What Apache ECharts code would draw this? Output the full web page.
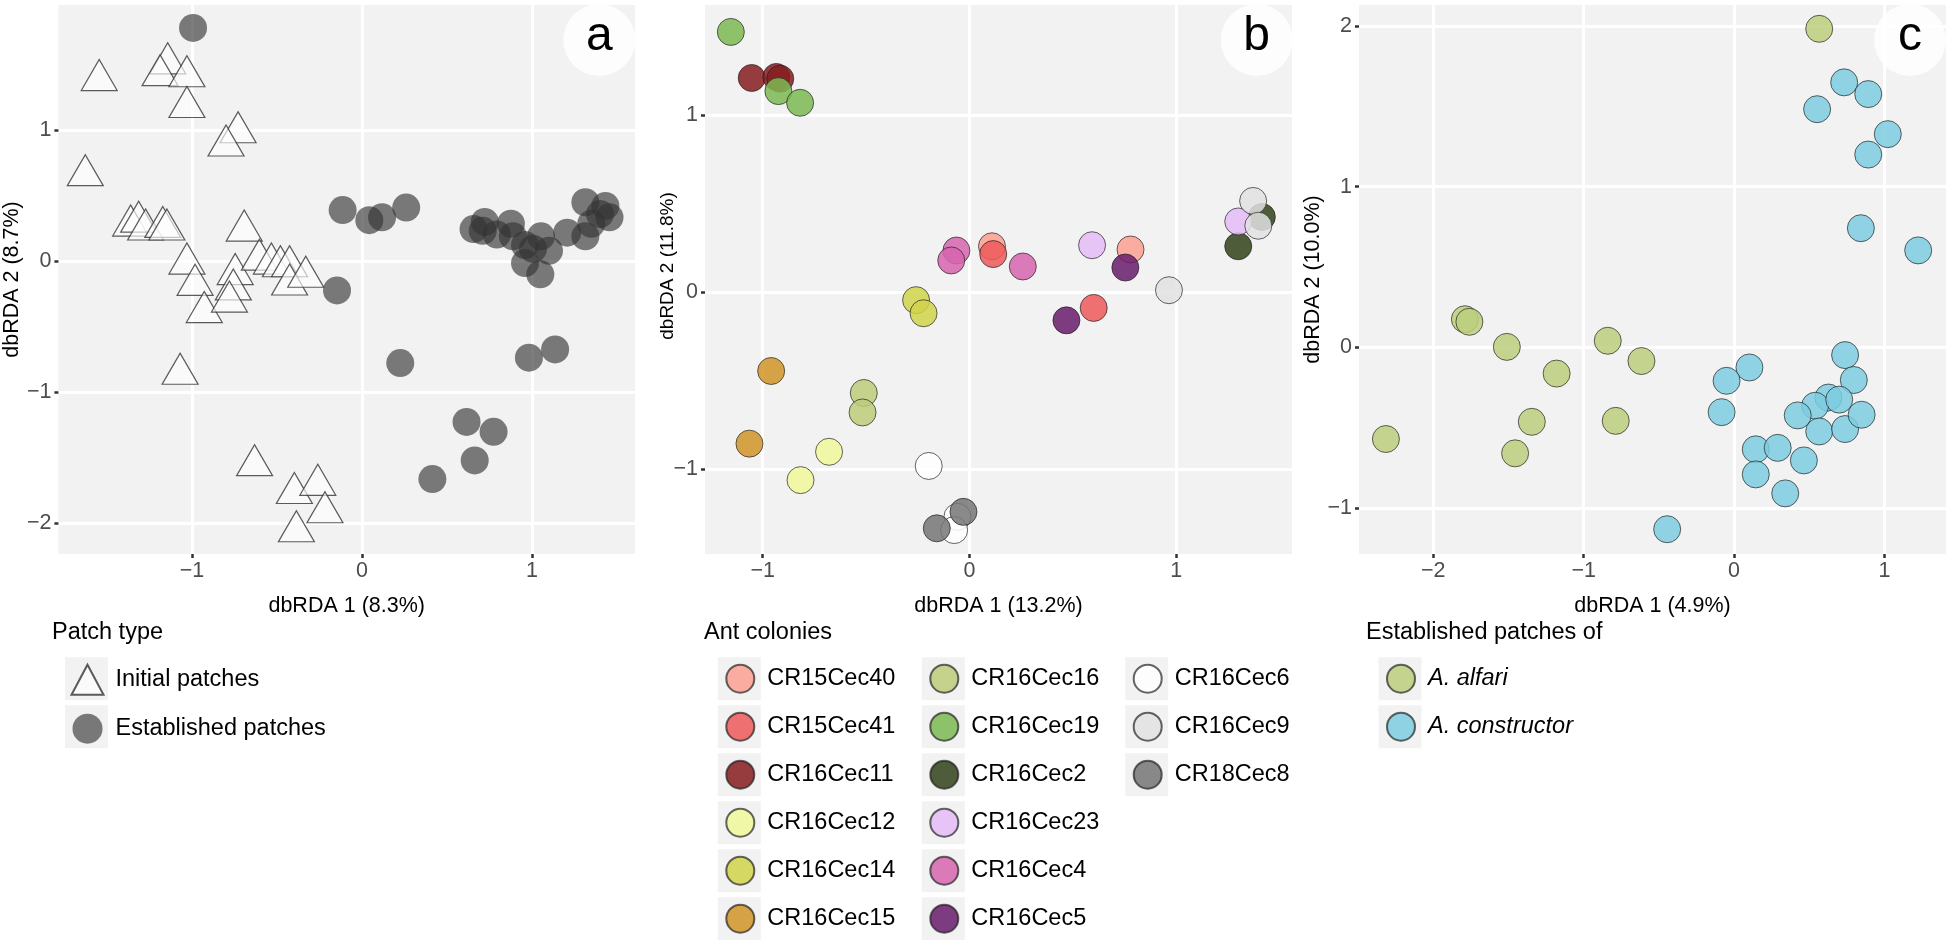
<!DOCTYPE html>
<html>
<head>
<meta charset="utf-8">
<script src="https://cdn.jsdelivr.net/npm/echarts@6/dist/echarts.min.js"></script>
<style>
  html, body { margin: 0; padding: 0; background: #fff; }
  #chart { width: 1952px; height: 940px; }
</style>
</head>
<body>
<div id="chart"></div>
<script>
// panel a : patch type
const initialX = [-1.546, -1.143, -1.188, -1.03, -1.03, -0.729, -0.80, -1.628, -1.361, -1.314, -1.273, -1.172, -1.148, -0.693, -1.03, -0.982,
  -0.928, -0.746, -0.757, -0.78, -0.604, -0.533, -0.48, -0.426, -0.426, -0.331, -1.07, -0.632, -0.398, -0.26, -0.218, -0.386];
const initialY = [1.42, 1.548, 1.458, 1.45, 1.215, 1.022, 0.921, 0.695, 0.31, 0.34, 0.28, 0.30, 0.28, 0.272, 0.02, -0.142,
  -0.35, -0.06, -0.177, -0.27, 0.05, 0.02, 0.0, 0.0, -0.14, -0.08, -0.82, -1.518, -1.73, -1.668, -1.877, -2.022];
const establishedX = [-0.994, -0.114, 0.043, 0.118, 0.26, -0.147, 0.225, 0.656, 0.722, 0.71, 0.793, 0.876, 0.888, 0.959, 1.006, 1.053,
  1.1, 0.959, 1.049, 1.207, 1.314, 1.314, 1.349, 1.432, 1.456, 1.40, 0.982, 1.136, 0.615, 0.774, 0.663, 0.414];
const establishedY = [1.78, 0.39, 0.313, 0.335, 0.409, -0.223, -0.777, 0.245, 0.30, 0.232, 0.204, 0.286, 0.19, 0.123, 0.095, 0.19,
  0.08, -0.014, -0.1, 0.218, 0.45, 0.19, 0.286, 0.422, 0.335, 0.36, -0.736, -0.673, -1.226, -1.302, -1.52, -1.662];

// panel b : ant colonies
const colonies = ['CR15Cec40', 'CR15Cec41', 'CR16Cec11', 'CR16Cec12', 'CR16Cec14', 'CR16Cec15', 'CR16Cec16', 'CR16Cec19',
  'CR16Cec2', 'CR16Cec23', 'CR16Cec4', 'CR16Cec5', 'CR16Cec6', 'CR16Cec9', 'CR18Cec8'];
const colonyColors = ['#FBA092', '#ED5959', '#861C1E', '#F0F99B', '#D1D34B', '#D19428', '#BCCC7A', '#7CBA52',
  '#31421A', '#E4BCF7', '#D665AE', '#6A1C6C', '#FFFFFF', '#E2E2E2', '#757575'];
const colonyX = [
  [0.109, 0.779], [0.115, 0.601], [-1.053, -0.934, -0.915], [-0.679, -0.817], [-0.258, -0.222],
  [-0.959, -1.064], [-0.511, -0.517], [-1.154, -0.924, -0.819], [1.414, 1.3], [0.593, 1.3],
  [-0.063, -0.088, 0.258], [0.754, 0.469], [-0.197, -0.058, -0.074], [0.965, 1.372, 1.397], [-0.029, -0.158]
];
const colonyY = [
  [0.26, 0.242], [0.216, -0.088], [1.21, 1.216, 1.206], [-0.9, -1.06], [-0.044, -0.118],
  [-0.444, -0.854], [-0.568, -0.678], [1.47, 1.136, 1.07], [0.426, 0.26], [0.266, 0.4],
  [0.236, 0.18, 0.146], [0.14, -0.158], [-0.98, -1.267, -1.342], [0.012, 0.516, 0.376], [-1.239, -1.332]
];

// panel c : established patches of
const alfariX = [0.566, -1.79, -1.76, -1.511, -1.18, -0.84, -0.616, -1.345, -1.456, -0.787, -2.315];
const alfariY = [1.982, 0.176, 0.16, 0.004, -0.162, 0.042, -0.084, -0.462, -0.658, -0.456, -0.569];
const constructorX = [0.732, 0.892, 0.552, 1.022, 0.892, 0.843, 1.224, 0.738, 0.796, 0.102, -0.05, -0.083, 0.627,
  0.539, 0.699, 0.423, 0.566, 0.738, 0.848, 0.144, 0.29, 0.464, 0.144, 0.34, -0.445];
const constructorY = [1.649, 1.576, 1.482, 1.327, 1.2, 0.742, 0.604, -0.047, -0.202, -0.124, -0.207, -0.402, -0.311,
  -0.362, -0.324, -0.422, -0.522, -0.507, -0.418, -0.633, -0.624, -0.702, -0.789, -0.907, -1.13];

// tick labels
const ticksAx = [-1, 0, 1];
const ticksAy = [-2, -1, 0, 1];
const ticksBx = [-1, 0, 1];
const ticksBy = [-1, 0, 1];
const ticksCx = [-2, -1, 0, 1];
const ticksCy = [-1, 0, 1, 2];

const FONT = 'Liberation Sans';
const zip = (xs, ys) => xs.map((x, i) => [x, ys[i]]);
const minus = v => String(v).replace('-', '\u2212');

// ggplot-like value axis
const makeAxis = (gridIndex, min, max, ticks, name, isY) => ({
  type: 'value',
  gridIndex: gridIndex,
  min: min,
  max: max,
  name: name,
  nameLocation: 'middle',
  nameGap: isY ? 27 : 41,
  nameTextStyle: { fontFamily: FONT, fontSize: 21.5, color: '#000' },
  axisLine: { show: false, onZero: false },
  axisTick: { show: true, customValues: ticks, length: 4, lineStyle: { color: '#333', width: 2.5 } },
  axisLabel: {
    customValues: ticks, formatter: minus, color: '#4D4D4D', fontFamily: FONT, fontSize: 21.5,
    margin: isY ? 7 : 6,
  },
  splitLine: { show: true, lineStyle: { color: '#fff', width: 3 } },
});

const dotStyle = color => ({ color: color, opacity: 0.85, borderColor: 'rgba(30,30,30,0.8)', borderWidth: 1 });

const series = [
  {
    name: 'Initial patches', type: 'scatter', xAxisIndex: 0, yAxisIndex: 0,
    symbol: 'triangle', symbolSize: [36, 31],
    itemStyle: { color: 'rgba(255,255,255,0.8)', borderColor: '#333', borderWidth: 1.2 },
    data: zip(initialX, initialY),
  },
  {
    name: 'Established patches', type: 'scatter', xAxisIndex: 0, yAxisIndex: 0,
    symbol: 'circle', symbolSize: 28,
    itemStyle: { color: 'rgba(51,51,51,0.8)' },
    data: zip(establishedX, establishedY),
  },
];
colonies.forEach((c, i) => {
  series.push({
    name: c, type: 'scatter', xAxisIndex: 1, yAxisIndex: 1,
    symbol: 'circle', symbolSize: 27,
    itemStyle: dotStyle(colonyColors[i]),
    data: zip(colonyX[i], colonyY[i]),
  });
});
series.push({
  name: 'A. alfari', type: 'scatter', xAxisIndex: 2, yAxisIndex: 2,
  symbol: 'circle', symbolSize: 27, itemStyle: dotStyle('#BCCF7C'),
  data: zip(alfariX, alfariY),
});
series.push({
  name: 'A. constructor', type: 'scatter', xAxisIndex: 2, yAxisIndex: 2,
  symbol: 'circle', symbolSize: 27, itemStyle: dotStyle('#7CCCE1'),
  data: zip(constructorX, constructorY),
});
series.forEach(s => { s.emphasis = { disabled: true }; });

// legends, one per column
const legendText = { fontFamily: FONT, fontSize: 23.5, color: '#000', padding: [0, 0, 0, 8], lineHeight: 30 };
const colLegend = (names, left, extra) => Object.assign({
  data: names, orient: 'vertical', left: left, top: 663.7, height: 320, padding: 0,
  itemWidth: 28, itemHeight: 28, itemGap: 18, selectedMode: false,
  textStyle: legendText,
}, extra || {});

const legends = [
  colLegend(['Initial patches', 'Established patches'], 70.5, {
    itemWidth: 32, itemHeight: 30,
    textStyle: Object.assign({}, legendText, { padding: [0, 0, 0, 7] }),
  }),
  colLegend(colonies.slice(0, 6), 725.3),
  colLegend(colonies.slice(6, 12), 929.3),
  colLegend(colonies.slice(12), 1132.7),
  colLegend(['A. alfari', 'A. constructor'], 1386,
    { textStyle: Object.assign({}, legendText, { fontStyle: 'italic' }) }),
];

// decoration: legend key boxes, legend titles, panel letters
const graphics = [];
const keyCols = [[86.5, 2], [739.3, 6], [943.3, 6], [1146.7, 3], [1400, 2]];
keyCols.forEach(([cx, n]) => {
  for (let r = 0; r < n; r++) {
    graphics.push({
      type: 'rect', z: 1, silent: true,
      shape: { x: cx - 21.5, y: 678.7 + r * 48 - 21.5, width: 43, height: 43 },
      style: { fill: '#F2F2F2' },
    });
  }
});
[['Patch type', 52], ['Ant colonies', 704], ['Established patches of', 1366]].forEach(([t, x]) => {
  graphics.push({
    type: 'text', x: x, y: 633, z: 5, silent: true,
    style: { text: t, font: '23.5px ' + FONT, fill: '#000', verticalAlign: 'middle' },
  });
});
// panel b's y title sits a little above the panel middle and is smaller
graphics.push({
  type: 'text', x: 667.5, y: 266, rotation: Math.PI / 2, z: 5, silent: true,
  style: { text: 'dbRDA 2 (11.8%)', font: '19px ' + FONT, fill: '#000', align: 'center', verticalAlign: 'middle' },
});
[['a', 599.3], ['b', 1256.7], ['c', 1910]].forEach(([t, cx]) => {
  graphics.push({
    type: 'circle', z: 10, silent: true,
    shape: { cx: cx, cy: 40, r: 36 },
    style: { fill: 'rgba(255,255,255,0.8)' },
  });
  graphics.push({
    type: 'text', x: cx, y: 37, z: 11, silent: true,
    style: { text: t, font: '48px ' + FONT, fill: '#000', align: 'center', verticalAlign: 'middle' },
  });
});

const gridStyle = { show: true, backgroundColor: '#F2F2F2', borderWidth: 0, top: 5, height: 549 };

const option = {
  backgroundColor: '#fff',
  animation: false,
  grid: [
    Object.assign({ left: 49, width: 586 }, gridStyle),
    Object.assign({ left: 705, width: 587 }, gridStyle),
    Object.assign({ left: 1359, width: 587 }, gridStyle),
  ],
  xAxis: [
    makeAxis(0, -1.786, 1.606, ticksAx, 'dbRDA 1 (8.3%)', false),
    makeAxis(1, -1.279, 1.56, ticksBx, 'dbRDA 1 (13.2%)', false),
    makeAxis(2, -2.494, 1.409, ticksCx, 'dbRDA 1 (4.9%)', false),
  ],
  yAxis: [
    makeAxis(0, -2.234, 1.955, ticksAy, 'dbRDA 2 (8.7%)', true),
    makeAxis(1, -1.477, 1.622, ticksBy, '', true),
    makeAxis(2, -1.284, 2.13, ticksCy, 'dbRDA 2 (10.0%)', true),
  ],
  legend: legends,
  graphic: graphics,
  series: series,
};

const chart = echarts.init(document.getElementById('chart'));
chart.setOption(option);
</script>
</body>
</html>
